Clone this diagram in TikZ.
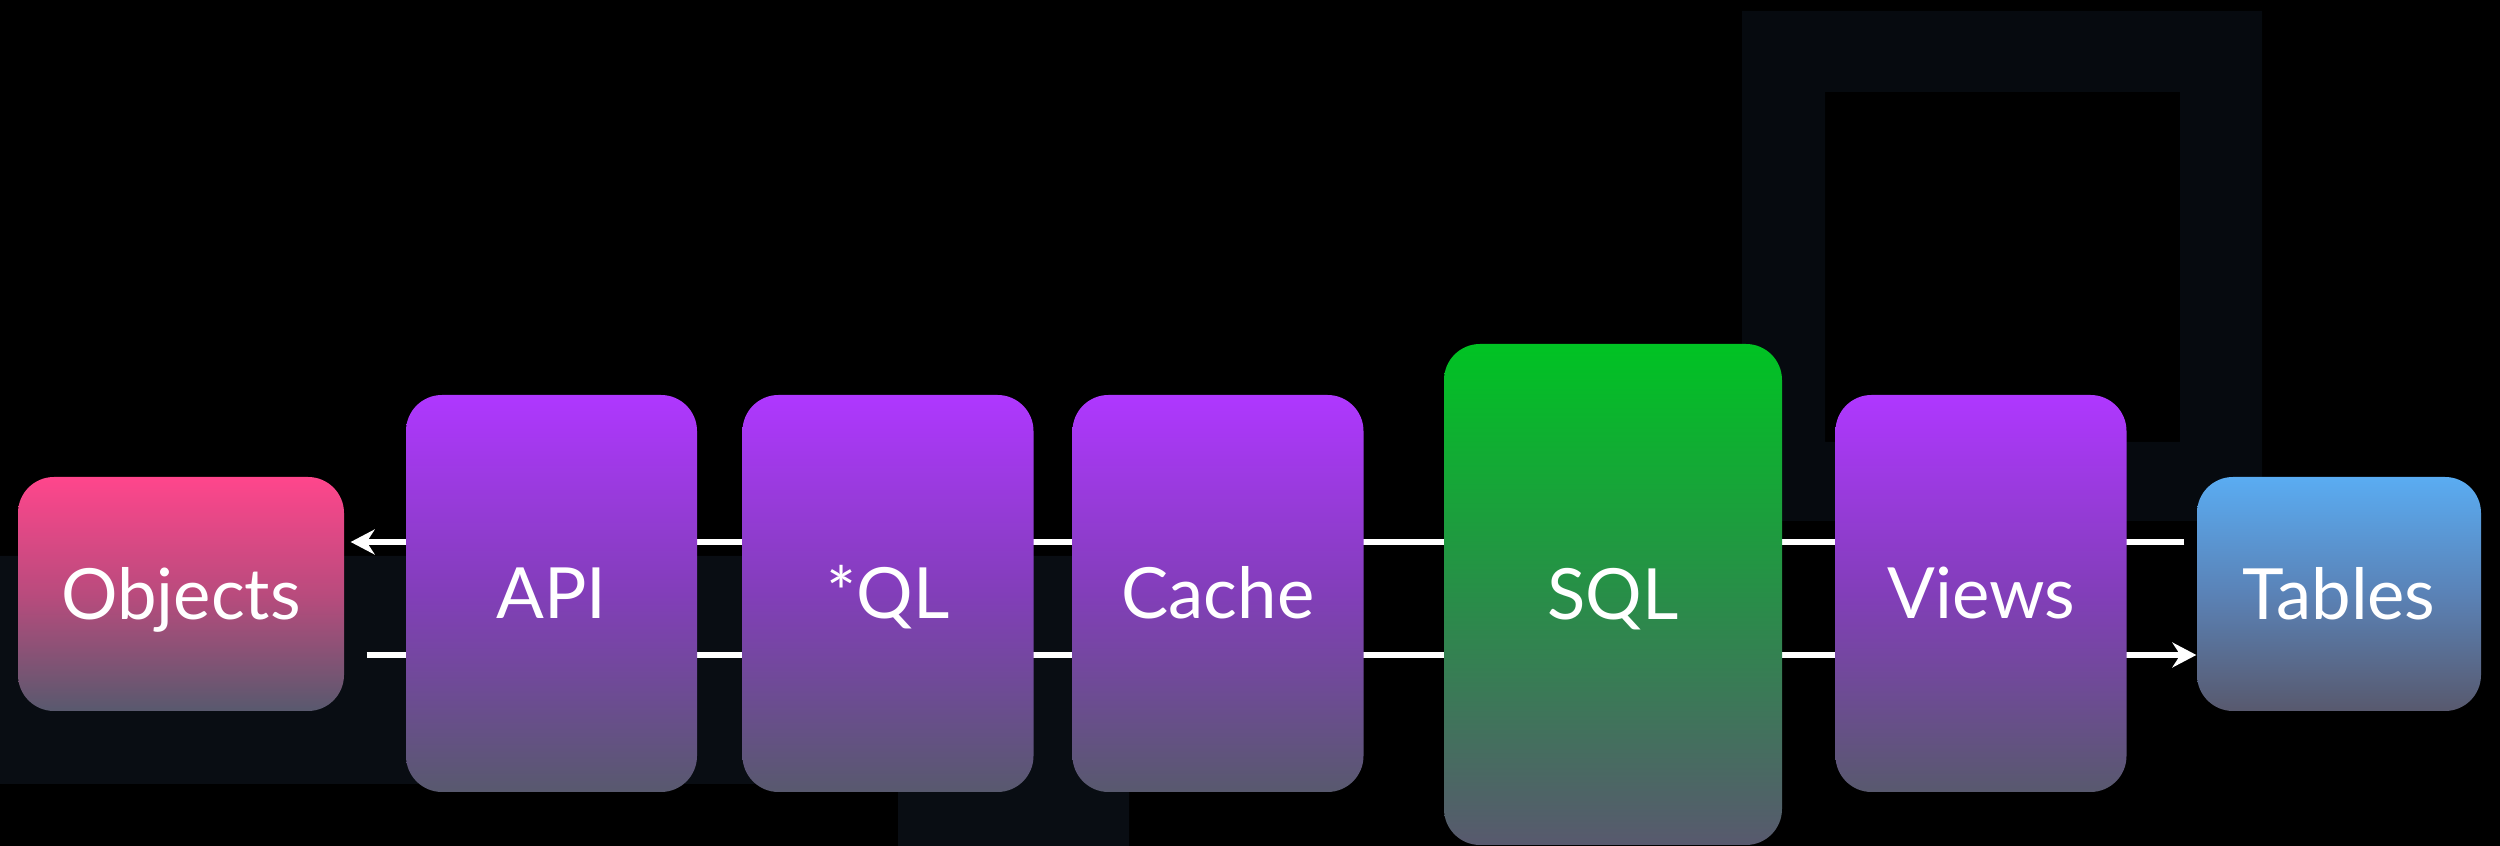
\documentclass[tikz,border=0pt]{standalone}
\usepackage{fontspec}
\setmainfont{Lato}
\usetikzlibrary{arrows.meta}

\pgfdeclarelayer{back}
\pgfdeclarelayer{lines}
\pgfsetlayers{back,lines,main}

\definecolor{panel}{RGB}{9,13,19}
\definecolor{frame}{RGB}{6,10,15}
\definecolor{greyfoot}{RGB}{88,89,110}
\definecolor{pinktop}{RGB}{255,70,140}
\definecolor{pinkmid}{RGB}{185,75,125}
\definecolor{violettop}{RGB}{175,55,255}
\definecolor{violetmid}{RGB}{130,62,185}
\definecolor{greentop}{RGB}{0,195,35}
\definecolor{greenmid}{RGB}{40,142,72}
\definecolor{bluetop}{RGB}{90,172,242}
\definecolor{bluemid}{RGB}{90,130,182}

\tikzset{every picture/.style={line width=0.75pt}}

\begin{document}
\begin{tikzpicture}[x=0.3pt,y=0.3pt,yscale=-1,xscale=1,
  box/.style={rounded corners=10.8pt, text=white, inner sep=0pt,
    font=\fontsize{21.2}{24}\selectfont, text height=15.2pt, text depth=0pt},
  layerbox/.style={box, minimum width=87.3pt, minimum height=119.1pt,
    top color=violettop, bottom color=greyfoot, middle color=violetmid},
  endbox/.style={box, minimum height=70.2pt},
  flow/.style={draw=white, line width=1.8pt,
    -{Stealth[length=7.2pt,width=7.5pt,inset=2.4pt]}}
]
%uncomment if require: \path (0,846); %set diagram left start at 0, and has height of 846

\begin{pgfonlayer}{back}
%Shape: Rectangle [background]
\fill[black] (0,0) rectangle (2500,846);
%Shape: Polygon [lower band]
\fill[panel] (0,556) -- (1129,556) -- (1129,846) -- (898,846) -- (898,784) -- (0,784) -- cycle;
%Shape: Frame [upper right]
\fill[frame, even odd rule] (1742,11) rectangle (2262,521) (1825,92) rectangle (2180,442);
\end{pgfonlayer}

% Text Node
\node[endbox, minimum width=97.8pt, top color=pinktop, bottom color=greyfoot, middle color=pinkmid] (objects) at (181,594) {Objects};
% Text Node
\node[layerbox] (api) at (551.5,593.5) {API};
% Text Node
\node[layerbox] (ql) at (888,593.5) {*QL};
% Text Node
\node[layerbox] (cache) at (1218,593.5) {Cache};
% Text Node
\node[box, minimum width=101.4pt, minimum height=150.3pt, top color=greentop, bottom color=greyfoot, middle color=greenmid] (sql) at (1613,594.5) {SQL};
% Text Node
\node[layerbox] (views) at (1981,593.5) {Views};
% Text Node
\node[endbox, minimum width=85.2pt, top color=bluetop, bottom color=greyfoot, middle color=bluemid] (tables) at (2339,594) {Tables};

\begin{pgfonlayer}{lines}
%Straight Lines [read back]
\draw[flow] ([xshift=-3.6pt,yshift=-15.6pt]tables.west) -- ([xshift=1.8pt,yshift=-15.6pt]objects.east);
%Straight Lines [write out]
\draw[flow] ([xshift=6.6pt,yshift=18.3pt]objects.east) -- ([yshift=18.3pt]tables.west);
\end{pgfonlayer}

\end{tikzpicture}
\end{document}
